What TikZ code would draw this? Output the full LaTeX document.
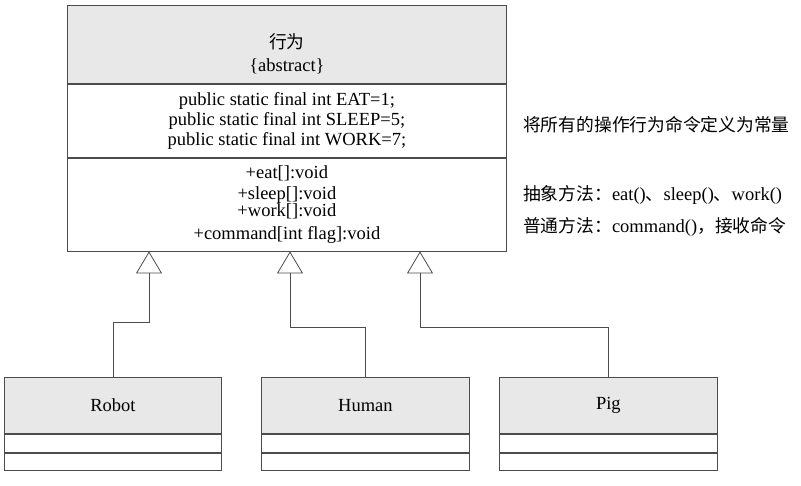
\documentclass[tikz,border=0pt]{standalone}
\usepackage{fontspec}
\setmainfont{Liberation Serif}
\newfontfamily\cjk[Scale=0.96]{Noto Sans CJK SC}
\usepackage{xcolor}
\usepackage{tikz}
\usetikzlibrary{arrows.meta,positioning,calc}

\begin{document}
\begin{tikzpicture}[
    x=1pt, y=-1pt,
    cls/.style={rectangle, draw=black!70, thick, anchor=north west, inner sep=0pt, align=center, font=\fontsize{18.5}{20}\selectfont},
    clshead/.style={cls, fill=black!9},
    note/.style={anchor=west, inner sep=0pt, font=\fontsize{18.5}{20}\selectfont},
    gen/.style={-{Triangle[open, length=22pt, width=26pt]}, thick, draw=black!70}
]
    \useasboundingbox (0,0) rectangle (801,486);

    % abstract class
    \node [clshead, minimum width=439pt, minimum height=78pt,
           label={[align=center, yshift=-9pt, font=\fontsize{18.5}{23}\selectfont]center:{\cjk 行为}\\\{abstract\}}] (beh) at (67,5) {};
    \node [cls, minimum width=439pt, minimum height=73pt] (attr) at (beh.south west)
        {public static final int EAT=1;\\public static final int SLEEP=5;\\public static final int WORK=7;};
    \node [cls, minimum width=439pt, minimum height=93pt] (ops) at (attr.south west)
        {+eat[]:void\\[1pt]+sleep[]:void\\[-3pt]+work[]:void\\[3pt]+command[int flag]:void};

    % notes
    \node [note] (n1) at (523,125) {\cjk 将所有的操作行为命令定义为常量};
    \node [note] (n2) at (523,195) {{\cjk 抽象方法：}eat(){\cjk 、}sleep(){\cjk 、}work()};
    \node [note] (n3) at (523,227) {{\cjk 普通方法：}command(){\cjk ，接收命令}};

    % subclasses
    \node [clshead, minimum width=217pt, minimum height=56pt] (robot) at (4,377) {Robot};
    \node [cls, minimum width=217pt, minimum height=18pt] (robotA) at (robot.south west) {};
    \node [cls, minimum width=217pt, minimum height=17pt] (robotB) at (robotA.south west) {};

    \node [clshead, minimum width=208pt, minimum height=56pt] (human) at (261,377) {Human};
    \node [cls, minimum width=208pt, minimum height=18pt] (humanA) at (human.south west) {};
    \node [cls, minimum width=208pt, minimum height=17pt] (humanB) at (humanA.south west) {};

    \node [clshead, minimum width=218pt, minimum height=56pt] (pig) at (499,377) {Pig};
    \node [cls, minimum width=218pt, minimum height=18pt] (pigA) at (pig.south west) {};
    \node [cls, minimum width=218pt, minimum height=17pt] (pigB) at (pigA.south west) {};

    % inheritance
    \coordinate (g1) at ($(ops.south west)+(82,0)$);
    \coordinate (g2) at ($(ops.south west)+(223,0)$);
    \coordinate (g3) at ($(ops.south west)+(353,0)$);

    \draw [gen] (robot.north) -- ++(0,-55) -| (g1);
    \draw [gen] (human.north) -- ++(0,-50) -| (g2);
    \draw [gen] (pig.north) -- ++(0,-50) -| (g3);
\end{tikzpicture}
\end{document}
